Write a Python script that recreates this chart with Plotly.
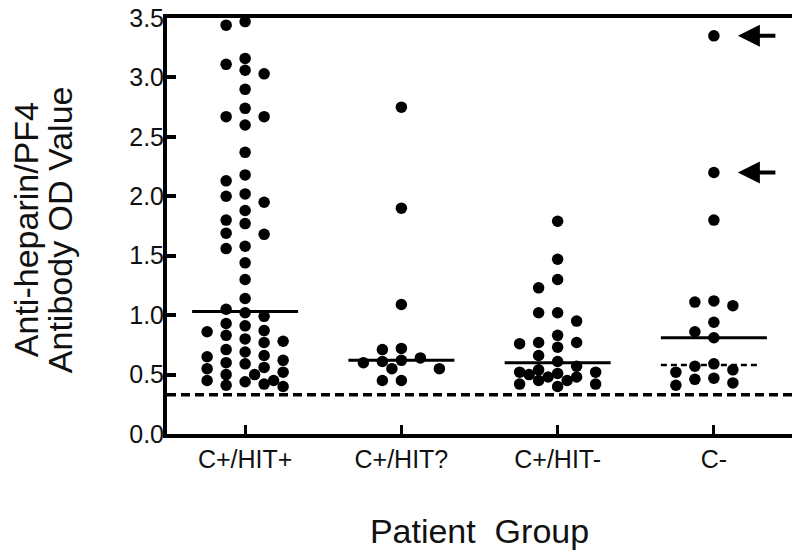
import plotly.graph_objects as go

# ---------------- data ----------------
categories = ["C+/HIT+", "C+/HIT?", "C+/HIT-", "C-"]

hit_pos = [3.47, 3.44, 3.16, 3.11, 3.06, 3.03, 2.90, 2.74, 2.67, 2.67, 2.60, 2.37,
           2.18, 2.13, 2.02, 2.00, 1.95, 1.88, 1.80, 1.77, 1.69, 1.68, 1.58, 1.56,
           1.44, 1.30, 1.14, 1.05, 1.02, 0.99, 0.93, 0.91, 0.87, 0.86, 0.83, 0.80,
           0.78, 0.77, 0.71, 0.69, 0.66, 0.65, 0.62, 0.60, 0.59, 0.56, 0.55, 0.52,
           0.50, 0.50, 0.45, 0.45, 0.44, 0.42, 0.41, 0.40]
hit_q = [2.75, 1.90, 1.09, 0.72, 0.71, 0.64, 0.62, 0.61, 0.60, 0.55, 0.55, 0.45, 0.45]
hit_neg = [1.79, 1.47, 1.30, 1.23, 1.02, 1.02, 0.95, 0.83, 0.77, 0.77, 0.76, 0.73,
           0.66, 0.61, 0.57, 0.54, 0.52, 0.52, 0.51, 0.50, 0.48, 0.48, 0.45, 0.45,
           0.42, 0.42, 0.40]
c_neg = [3.35, 2.20, 1.80, 1.12, 1.11, 1.08, 0.94, 0.86, 0.81, 0.59, 0.57, 0.54,
         0.52, 0.47, 0.46, 0.43, 0.41]

medians = [1.03, 0.62, 0.60, 0.81]
c_neg_second_line = 0.58
cutoff = 0.33
arrowed_values = [3.35, 2.20]
y_ticks = [0.0, 0.5, 1.0, 1.5, 2.0, 2.5, 3.0, 3.5]

groups = [hit_pos, hit_q, hit_neg, c_neg]

# ---------------- layout constants ----------------
# the page body has an 8px margin, so the figure is drawn 8px in from the corner
W, H = 792, 546
ML, MR, MT, MB = 159, 8, 10, 120
Y_MAX = 3.5
PW = W - ML - MR
px_per_cat = PW / 4.0
px_per_unit = (H - MT - MB) / Y_MAX
DOT = 11.5
FONT = "Liberation Sans, Arial, sans-serif"


def swarm(vals, d=DOT, step=9.5):
    """Column-scatter placement limited to +-4 half steps; returns x offsets (category units)."""
    full = sorted([k * 2 * step for k in range(-2, 3)], key=lambda o: (abs(o), o))
    half = sorted([(k + 0.5) * 2 * step for k in range(-2, 2)], key=lambda o: (abs(o), o))
    cands = full + half
    placed = []
    offs = [0.0] * len(vals)
    for i in sorted(range(len(vals)), key=lambda j: -vals[j]):
        y = vals[i] * px_per_unit
        chosen = None
        best, best_o = -1.0, 0.0
        for o in cands:
            md = min([((o - po) ** 2 + (y - py) ** 2) ** 0.5 for po, py in placed] or [1e9])
            if md >= d:
                chosen = o
                break
            if md > best:
                best, best_o = md, o
        if chosen is None:
            chosen = best_o
        placed.append((chosen, y))
        offs[i] = chosen / px_per_cat
    return offs


fig = go.Figure()

half_w = 53 / px_per_cat
for gi, vals in enumerate(groups):
    offs = swarm(vals)
    fig.add_trace(go.Scatter(
        x=[gi + o for o in offs], y=vals, mode="markers",
        marker=dict(size=DOT, color="black", line=dict(width=0)),
        cliponaxis=False, showlegend=False, hoverinfo="y"))
    fig.add_trace(go.Scatter(
        x=[gi - half_w, gi + half_w], y=[medians[gi], medians[gi]], mode="lines",
        line=dict(color="black", width=3), showlegend=False, hoverinfo="skip"))

# secondary dashed line for C-
fig.add_trace(go.Scatter(
    x=[3 - half_w, 3 + 47 / px_per_cat], y=[c_neg_second_line] * 2, mode="lines",
    line=dict(color="black", width=2.5, dash="6px,4px"), showlegend=False, hoverinfo="skip"))

# cutoff line
fig.add_trace(go.Scatter(
    x=[-0.5, 3.5], y=[cutoff, cutoff], mode="lines",
    line=dict(color="black", width=3.5, dash="9px,5px"), showlegend=False,
    hoverinfo="skip", cliponaxis=False))

for v in arrowed_values:
    fig.add_annotation(x=3 + 24 / px_per_cat, y=v, xref="x", yref="y", text="",
                       showarrow=True, ax=39, ay=0, arrowhead=2, arrowsize=1.1,
                       arrowwidth=4, arrowcolor="black", standoff=0)

# two-line y title
fig.add_annotation(x=(18 - ML) / PW, y=0.49, xref="paper", yref="paper",
                   text="Anti-heparin/PF4", textangle=-90, showarrow=False,
                   xanchor="center", yanchor="middle",
                   font=dict(size=34, color="#111", family=FONT))
fig.add_annotation(x=(52 - ML) / PW, y=0.49, xref="paper", yref="paper",
                   text="Antibody OD Value", textangle=-90, showarrow=False,
                   xanchor="center", yanchor="middle",
                   font=dict(size=34, color="#111", family=FONT))

fig.update_layout(
    width=W, height=H, margin=dict(l=ML, r=MR, t=MT, b=MB, autoexpand=False),
    paper_bgcolor="white", plot_bgcolor="white",
    font=dict(family=FONT, color="#111"),
    xaxis=dict(range=[-0.5, 3.5], tickvals=list(range(4)), ticktext=categories,
               automargin=False,
               showgrid=False, zeroline=False, showline=True, linewidth=4,
               linecolor="black", mirror=True, ticks="inside", ticklen=9,
               tickwidth=3, tickcolor="black", tickfont=dict(size=25, color="#111"),
               title=dict(text="Patient  Group", font=dict(size=34, color="#111"),
                          standoff=48)),
    yaxis=dict(range=[0, Y_MAX], tickvals=y_ticks, tickformat=".1f",
               automargin=False, ticklabelstandoff=-6, ticklabeloverflow="allow",
               showgrid=False, zeroline=False, showline=True, linewidth=4,
               linecolor="black", mirror=True, ticks="inside", ticklen=9,
               tickwidth=4, tickcolor="black", tickfont=dict(size=25, color="#111")),
)

fig.write_html("out.html")
